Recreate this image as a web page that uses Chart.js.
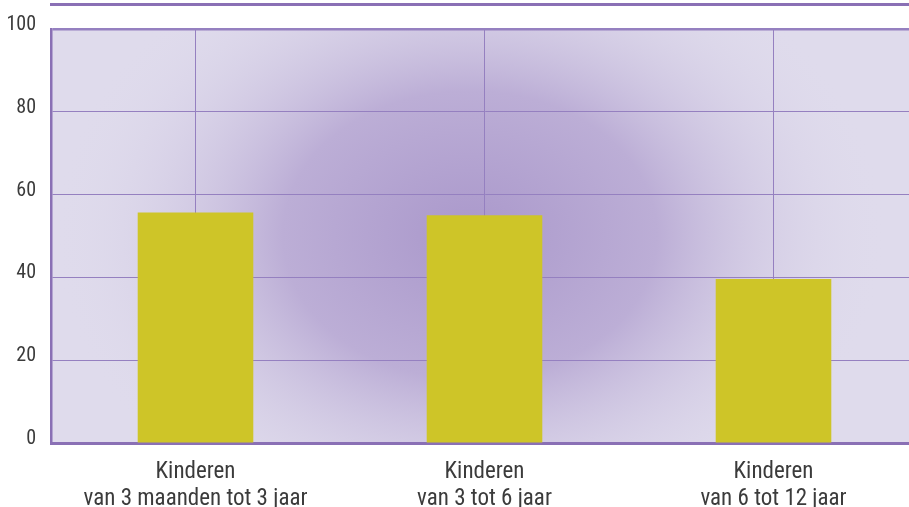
<!DOCTYPE html>
<html>
<head>
<meta charset="utf-8">
<script src="https://cdn.jsdelivr.net/npm/chart.js@4.4.1/dist/chart.umd.min.js"></script>
<style>
  html, body { margin: 0; padding: 0; background: #fff; overflow: hidden; }
  #wrap { width: 920px; height: 507px; position: relative; }
</style>
</head>
<body>
<div id="wrap"><canvas id="chart"></canvas></div>
<script>
const categories = [
  ['Kinderen', 'van 3 maanden tot 3 jaar'],
  ['Kinderen', 'van 3 tot 6 jaar'],
  ['Kinderen', 'van 6 tot 12 jaar']
];
const values = [55.7, 55.0, 39.6];
const yTicks = [0, 20, 40, 60, 80, 100];

const purple = '#8a70b5';
const gridPurple = '#9580c0';
const barColor = '#cec528';
const fontFamily = '"Liberation Sans Narrow", "Roboto Condensed", sans-serif';

// lavender background with a darker centre
const backdrop = {
  id: 'backdrop',
  beforeDraw(chart) {
    const { ctx, chartArea: a } = chart;
    ctx.save();
    ctx.beginPath();
    ctx.rect(a.left, a.top, a.right - a.left, a.bottom - a.top);
    ctx.clip();
    ctx.fillStyle = '#dfdbec';
    ctx.fillRect(a.left, a.top, a.right - a.left, a.bottom - a.top);
    ctx.translate(470, 235);
    ctx.scale(1.3, 1);
    const g = ctx.createRadialGradient(0, 0, 0, 0, 0, 320);
    g.addColorStop(0, '#aa98cb');
    g.addColorStop(0.45, '#bcaed6');
    g.addColorStop(1, 'rgba(223,219,236,0)');
    ctx.fillStyle = g;
    ctx.fillRect(-400, -300, 800, 600);
    ctx.restore();

    // thin rule along the top
    ctx.save();
    ctx.strokeStyle = purple;
    ctx.lineWidth = 3;
    ctx.beginPath();
    ctx.moveTo(a.left - 1, 4.5);
    ctx.lineTo(chart.width, 4.5);
    ctx.stroke();
    ctx.restore();
  }
};

new Chart(document.getElementById('chart'), {
  type: 'bar',
  data: {
    labels: categories,
    datasets: [{
      data: values,
      backgroundColor: barColor,
      borderWidth: 0,
      barPercentage: 0.4,
      categoryPercentage: 1
    }]
  },
  options: {
    responsive: true,
    maintainAspectRatio: false,
    animation: false,
    layout: { padding: { top: 29, right: 2, bottom: 0, left: 0 } },
    plugins: { legend: { display: false }, tooltip: { enabled: false } },
    scales: {
      x: {
        offset: true,
        afterFit(axis) { axis.height = 64; },
        grid: { offset: false, color: gridPurple, lineWidth: 1, drawTicks: false },
        border: { color: purple, width: 3 },
        ticks: {
          color: '#3b3b3b',
          padding: 16,
          maxRotation: 0,
          font: { family: fontFamily, size: 23, lineHeight: 1.17 }
        }
      },
      y: {
        min: 0,
        max: 100,
        afterFit(axis) { axis.width = 51; },
        afterBuildTicks(axis) { axis.ticks = yTicks.map(v => ({ value: v })); },
        grid: {
          color: gridPurple,
          drawTicks: false,
          lineWidth: ctx => (ctx.tick && ctx.tick.value === 100 ? 2.5 : 1)
        },
        border: { color: purple, width: 2.5 },
        ticks: {
          color: '#3b3b3b',
          padding: 15,
          labelOffset: -4,
          font: { family: fontFamily, size: 20 }
        }
      }
    }
  },
  plugins: [backdrop]
});
</script>
</body>
</html>
